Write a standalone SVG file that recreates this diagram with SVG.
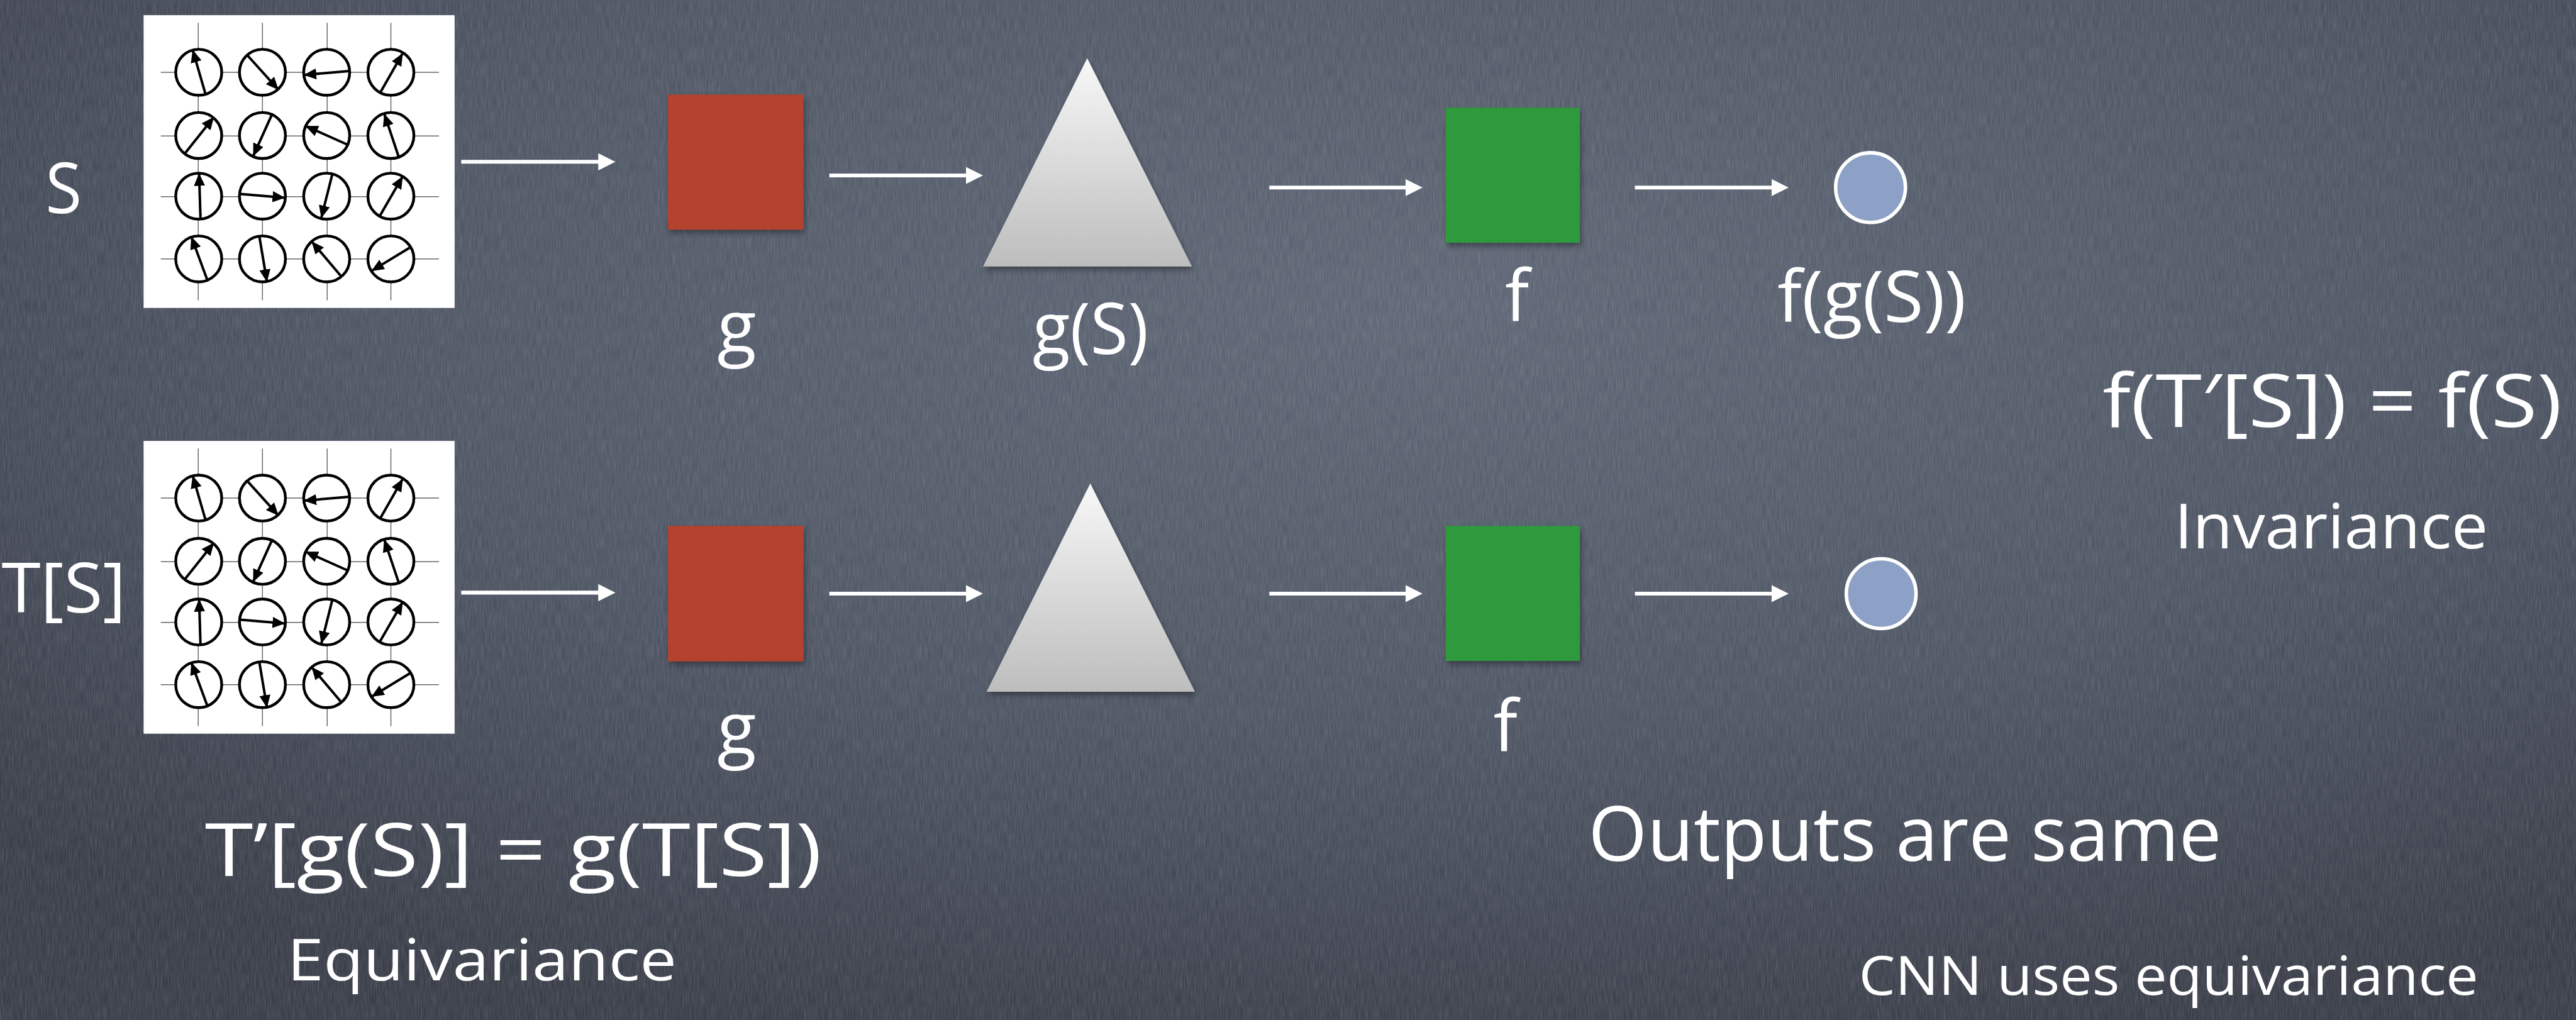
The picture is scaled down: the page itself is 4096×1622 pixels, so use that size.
<svg xmlns="http://www.w3.org/2000/svg" xmlns:xlink="http://www.w3.org/1999/xlink" width="4096" height="1622" viewBox="0 0 4096 1622">
<defs>
<radialGradient id="bg" cx="0.55" cy="0.3" r="0.75">
<stop offset="0" stop-color="#5f6776"/>
<stop offset="0.55" stop-color="#4f5664"/>
<stop offset="1" stop-color="#393e49"/>
</radialGradient>
<linearGradient id="tri" x1="0" y1="0" x2="0" y2="1">
<stop offset="0" stop-color="#f8f8f8"/>
<stop offset="1" stop-color="#bdbdbd"/>
</linearGradient>
<filter id="noise" x="0" y="0" width="100%" height="100%">
<feTurbulence type="fractalNoise" baseFrequency="0.6 0.04" numOctaves="2" seed="7"/>
<feColorMatrix type="matrix" values="0 0 0 0 1 0 0 0 0 1 0 0 0 0 1 0.22 0 0 0 -0.07"/>
</filter>
<filter id="shadow" x="-20%" y="-20%" width="140%" height="140%">
<feDropShadow dx="3" dy="7" stdDeviation="6" flood-color="#000" flood-opacity="0.35"/>
</filter>
<marker id="wh" markerUnits="userSpaceOnUse" markerWidth="34" markerHeight="34" refX="2" refY="17" orient="auto">
<path d="M0,0 L34,17 L0,34 z" fill="#fff"/>
</marker>
<marker id="bk" markerUnits="userSpaceOnUse" markerWidth="26" markerHeight="24" refX="25" refY="11" orient="auto">
<path d="M0,0 L25,11 L0,22 z" fill="#000"/>
</marker>
<style>
.t{font-family:"Open Sans","Noto Sans","Liberation Sans",sans-serif;fill:#fff}
.gl{stroke:#666;stroke-width:1.8}
.sc{fill:#fff;stroke:#000;stroke-width:5.5}
.sa{stroke:#000;stroke-width:5;marker-end:url(#bk)}
.con{stroke:#fff;stroke-width:7.6;marker-end:url(#wh)}
.red{fill:#b3432e;filter:url(#shadow)}
.grn{fill:#2f9a3d;filter:url(#shadow)}
.trg{fill:url(#tri);filter:url(#shadow)}
.out{fill:#8ca1c5;stroke:#fff;stroke-width:7}
</style>
<g id="spins">
<rect x="284" y="30" width="615" height="579" fill="#fff"/>
<g class="gl">
<line x1="392" y1="45" x2="392" y2="594"/>
<line x1="519" y1="45" x2="519" y2="594"/>
<line x1="647" y1="45" x2="647" y2="594"/>
<line x1="773" y1="45" x2="773" y2="594"/>
<line x1="318" y1="143" x2="868" y2="143"/>
<line x1="318" y1="269" x2="868" y2="269"/>
<line x1="318" y1="389" x2="868" y2="389"/>
<line x1="318" y1="512" x2="868" y2="512"/>
</g>
<g class="sc">
<circle cx="393" cy="143" r="45.5"/><circle cx="519" cy="143" r="45.5"/><circle cx="646" cy="143" r="45.5"/><circle cx="773" cy="143" r="45.5"/>
<circle cx="393" cy="268" r="45.5"/><circle cx="519" cy="268" r="45.5"/><circle cx="646" cy="268" r="45.5"/><circle cx="773" cy="268" r="45.5"/>
<circle cx="393" cy="388" r="45.5"/><circle cx="519" cy="388" r="45.5"/><circle cx="646" cy="388" r="45.5"/><circle cx="773" cy="388" r="45.5"/>
<circle cx="393" cy="512" r="45.5"/><circle cx="519" cy="512" r="45.5"/><circle cx="646" cy="512" r="45.5"/><circle cx="773" cy="512" r="45.5"/>
</g>
<g class="sa">
<line x1="406.7" y1="187.2" x2="381.0" y2="98.5"/>
<line x1="490.4" y1="110.7" x2="550.8" y2="177.7"/>
<line x1="690.4" y1="140.6" x2="600.6" y2="148.2"/>
<line x1="751.6" y1="183.8" x2="796.5" y2="105.0"/>
<line x1="365.9" y1="303.2" x2="423.1" y2="231.3"/>
<line x1="537.3" y1="227.4" x2="500.6" y2="308.9"/>
<line x1="687.1" y1="286.0" x2="603.9" y2="248.9"/>
<line x1="788.4" y1="310.1" x2="759.8" y2="224.7"/>
<line x1="396.5" y1="433.3" x2="393.7" y2="342.6"/>
<line x1="476.1" y1="383.6" x2="563.9" y2="391.2"/>
<line x1="656.9" y1="345.3" x2="635.3" y2="431.4"/>
<line x1="750.8" y1="427.6" x2="796.5" y2="348.4"/>
<line x1="410.0" y1="553.9" x2="378.2" y2="467.8"/>
<line x1="512.9" y1="467.8" x2="528.0" y2="557.7"/>
<line x1="676.1" y1="548.1" x2="616.1" y2="477.3"/>
<line x1="812.0" y1="488.8" x2="734.5" y2="535.9"/>
</g>
</g>
</defs>
<rect width="4096" height="1622" fill="url(#bg)"/>
<rect width="4096" height="1622" filter="url(#noise)"/>
<g transform="scale(0.80408)">
<g id="connectors">
<line class="con" x1="912" y1="320" x2="1185" y2="320"/>
<line class="con" x1="1640" y1="347" x2="1912" y2="347"/>
<line class="con" x1="2510" y1="371" x2="2781" y2="371"/>
<line class="con" x1="3233" y1="371" x2="3505" y2="371"/>
<line class="con" x1="912" y1="1172" x2="1185" y2="1172"/>
<line class="con" x1="1640" y1="1174" x2="1912" y2="1174"/>
<line class="con" x1="2510" y1="1174" x2="2781" y2="1174"/>
<line class="con" x1="3233" y1="1174" x2="3505" y2="1174"/>
</g>
<g id="input-S">
<use xlink:href="#spins" href="#spins"/>
<text class="t" x="90" y="421" font-size="140" textLength="72" lengthAdjust="spacingAndGlyphs">S</text>
</g>
<g id="input-TS">
<use xlink:href="#spins" href="#spins" transform="translate(0,842)"/>
<text class="t" x="3" y="1211" font-size="137" textLength="246" lengthAdjust="spacingAndGlyphs">T[S]</text>
</g>
<g id="g-top">
<rect class="red" x="1321" y="187" width="268" height="267"/>
<text class="t" x="1457" y="696" font-size="142" text-anchor="middle">g</text>
</g>
<g id="g-bottom">
<rect class="red" x="1321" y="1040" width="268" height="268"/>
<text class="t" x="1457" y="1491" font-size="142" text-anchor="middle">g</text>
</g>
<g id="gS-top">
<polygon class="trg" points="2150,115 2357,527 1944,527"/>
<text class="t" x="2042" y="700" font-size="142" textLength="229" lengthAdjust="spacingAndGlyphs">g(S)</text>
</g>
<g id="gS-bottom">
<polygon class="trg" points="2156,956 2363,1368 1951,1368"/>
</g>
<g id="f-top">
<rect class="grn" x="2859" y="213" width="265" height="267"/>
<text class="t" x="3000" y="636" font-size="142" text-anchor="middle">f</text>
</g>
<g id="f-bottom">
<rect class="grn" x="2859" y="1040" width="265" height="267"/>
<text class="t" x="2977" y="1486" font-size="142" text-anchor="middle">f</text>
</g>
<g id="out-top">
<circle class="out" cx="3699" cy="371" r="69"/>
<text class="t" x="3515" y="637" font-size="142" textLength="373" lengthAdjust="spacingAndGlyphs">f(g(S))</text>
</g>
<g id="out-bottom">
<circle class="out" cx="3720" cy="1174" r="69"/>
</g>
<g id="labels">
<text class="t" x="4158" y="845" font-size="145" textLength="908" lengthAdjust="spacingAndGlyphs">f(T′[S]) = f(S)</text>
<text class="t" x="4300" y="1085" font-size="124" textLength="620" lengthAdjust="spacingAndGlyphs">Invariance</text>
<text class="t" x="405" y="1733" font-size="146" textLength="1220" lengthAdjust="spacingAndGlyphs">T’[g(S)] = g(T[S])</text>
<text class="t" x="568" y="1939" font-size="114" textLength="770" lengthAdjust="spacingAndGlyphs">Equivariance</text>
<text class="t" x="3141" y="1703" font-size="150" textLength="1252" lengthAdjust="spacingAndGlyphs">Outputs are same</text>
<text class="t" x="3676" y="1968" font-size="108" textLength="1225" lengthAdjust="spacingAndGlyphs">CNN uses equivariance</text>
</g>
</g>
</svg>
